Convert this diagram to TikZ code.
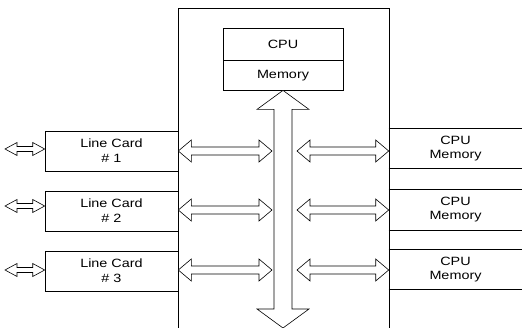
\documentclass[tikz,border=0pt]{standalone}
\usepackage{fontspec}
\setmainfont{Liberation Sans}[FakeStretch=1.2]
\usetikzlibrary{calc,positioning}

\tikzset{
  unitbox/.style={draw, inner sep=0pt, align=center},
  linecard/.style={unitbox, minimum width=133pt, minimum height=40pt},
  cpucell/.style={unitbox, minimum width=120pt},
  memslot/.style={inner sep=0pt, align=center, minimum width=133pt,
    minimum height=40pt, font=\fontsize{12}{14}\selectfont},
  % hollow double-headed arrow: head length, head half width, shaft half width
  fatarrow/.style n args={3}{to path={
    -- ($(\tikztostart)!#1!(\tikztotarget)!#2!90:(\tikztotarget)$)
    -- ($(\tikztostart)!#1!(\tikztotarget)!#3!90:(\tikztotarget)$)
    -- ($(\tikztotarget)!#1!(\tikztostart)!#3!-90:(\tikztostart)$)
    -- ($(\tikztotarget)!#1!(\tikztostart)!#2!-90:(\tikztostart)$)
    -- (\tikztotarget)
    -- ($(\tikztotarget)!#1!(\tikztostart)!#2!90:(\tikztostart)$)
    -- ($(\tikztotarget)!#1!(\tikztostart)!#3!90:(\tikztostart)$)
    -- ($(\tikztostart)!#1!(\tikztotarget)!#3!-90:(\tikztotarget)$)
    -- ($(\tikztostart)!#1!(\tikztotarget)!#2!-90:(\tikztotarget)$)
    -- cycle}},
  portarrow/.style={fatarrow={12pt}{6.5pt}{2.5pt}},
  busarrow/.style={fatarrow={13pt}{11pt}{4pt}},
  backbone/.style={fatarrow={19pt}{26pt}{9pt}}
}

\begin{document}
\begin{tikzpicture}[x=1pt, y=-1pt, line width=0.6pt, line join=miter,
  every node/.style={font=\fontsize{12}{15}\selectfont}]
  \useasboundingbox (0,0) rectangle (522,328);
  % Chassis (open at the bottom)
  \draw (178,328) |- (389,8) -- (389,328);
  % CPU and memory
  \node[cpucell, minimum height=32pt] (cpu) at (283,44) {CPU};
  \node[cpucell, minimum height=29.5pt, below=0pt of cpu] (mem) {Memory};
  \coordinate (busend) at (283,328);
  \draw[fill=white] (mem.south) to[backbone] (busend);
  % Line cards, bus links and CPU memory slots
  \foreach \n/\yc/\yin/\ym/\yb in {1/151/149/148.5/151, 2/211/206/210/210, 3/271/270/269.5/270}{
    \node[linecard] (lc\n) at (111.5,\yc) {Line Card\\\# \n};
    \node[memslot] (cm\n) at (455.5,\ym) {CPU\\Memory};
    \draw (cm\n.north west) -- (cm\n.north east) (cm\n.south west) -- (cm\n.south east);
    \coordinate (port\n) at (5,\yin);
    \coordinate (lcin\n) at (lc\n.west |- port\n);
    \coordinate (lcout\n) at (lc\n.east |- 0,\yb);
    \coordinate (busl\n) at (272,\yb);
    \coordinate (busr\n) at (297,\yb);
    \coordinate (cmin\n) at (cm\n.west |- 0,\yb);
    \draw[fill=white] (port\n) to[portarrow] (lcin\n);
    \draw[fill=white] (lcout\n) to[busarrow] (busl\n);
    \draw[fill=white] (busr\n) to[busarrow] (cmin\n);
  }
\end{tikzpicture}
\end{document}
